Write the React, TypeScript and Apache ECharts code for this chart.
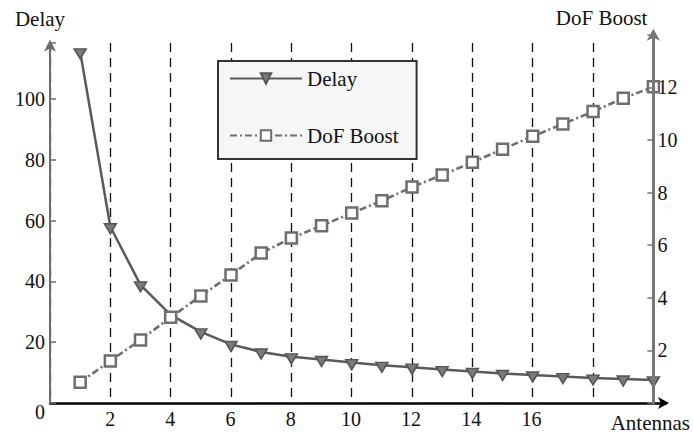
import React, { useEffect, useRef } from 'react';
import * as echarts from 'echarts';

const antennas = [1, 2, 3, 4, 5, 6, 7, 8, 9, 10, 11, 12, 13, 14, 15, 16, 17, 18, 19, 20];
const delay = [115.6, 58, 38.9, 29, 23.4, 19.3, 16.8, 15.2, 14.3, 13.3, 12.4, 11.8, 11.0, 10.4, 9.7, 9.2, 8.7, 8.2, 7.9, 7.6];
const dofBoost = [0.79, 1.6, 2.4, 3.26, 4.07, 4.87, 5.7, 6.27, 6.74, 7.22, 7.69, 8.21, 8.67, 9.15, 9.65, 10.14, 10.61, 11.08, 11.59, 12.02];
const xTickLabels = [2, 4, 6, 8, 10, 12, 14, 16];
const delayTickLabels = [20, 40, 60, 80, 100];
const dofTickLabels = [2, 4, 6, 8, 10, 12];
const originLabel = '0';

const FONT = 'Liberation Serif';

export default function App() {
  const ref = useRef<HTMLDivElement>(null);
  useEffect(() => {
    document.body.style.margin = '0';
    const chart = echarts.init(ref.current!, null, { renderer: 'svg' });
    const labelStyle = { fontFamily: FONT, fontSize: 20, color: '#111' };
    const nameStyle = { fontFamily: FONT, fontSize: 21, color: '#111' };
    chart.setOption({
      animation: false,
      textStyle: { fontFamily: FONT },
      legend: {
        data: ['Delay', 'DoF Boost'],
        orient: 'vertical',
        left: 218,
        top: 61,
        padding: [7, 18, 13, 11],
        itemWidth: 72,
        itemHeight: 13,
        itemGap: 36,
        backgroundColor: '#f6f6f6',
        borderColor: '#333',
        borderWidth: 2,
        textStyle: { fontFamily: FONT, fontSize: 21, color: '#111' },
        selectedMode: false,
      },
      graphic: [
        { type: 'text', left: 35, top: 402, style: { text: originLabel, fontFamily: FONT, fontSize: 20, fill: '#111' } },
      ],
      grid: [
        { left: 50, right: 39.6, top: 43, bottom: 33 },
        { left: 50, right: 39.6, top: 34.8, bottom: 33 },
        { left: 50, right: 25, top: 43, bottom: 33 },
      ],
      xAxis: [
        {
          gridIndex: 0, type: 'value', min: 0, max: 20, interval: 2,
          axisLine: { show: false }, axisTick: { show: false }, axisLabel: { show: false },
          splitLine: { show: true, lineStyle: { type: [9, 6], color: '#111', width: 1.3 } },
        },
        { gridIndex: 1, type: 'value', min: 0, max: 20, show: false },
        {
          gridIndex: 2, type: 'value', min: 0, max: 20.47, interval: 2,
          axisLine: {
            show: true, onZero: false,
            lineStyle: { color: '#000', width: 2.5 },
            symbol: ['none', 'arrow'], symbolSize: [9, 11], symbolOffset: [0, 3],
          },
          axisTick: { show: false },
          splitLine: { show: false },
          axisLabel: {
            ...labelStyle, margin: 6,
            formatter: (v: number) => (xTickLabels.includes(v) ? String(v) : ''),
          },
          name: 'Antennas', nameLocation: 'end', nameGap: 24,
          nameTextStyle: { ...nameStyle, align: 'right', verticalAlign: 'top', padding: [9.5, 0, 0, 0] },
        },
      ],
      yAxis: [
        {
          gridIndex: 0, type: 'value', min: 0, max: 118.5, interval: 20, position: 'left', z: 3,
          axisLine: {
            show: true, onZero: false,
            lineStyle: { color: '#6b6b6b', width: 2 },
            symbol: ['none', 'arrow'], symbolSize: [9, 12], symbolOffset: [0, 3.5],
          },
          axisTick: { show: true, inside: true, length: 6, lineStyle: { color: '#6b6b6b', width: 1.5 } },
          splitLine: { show: false },
          axisLabel: {
            ...labelStyle, margin: 5,
            formatter: (v: number) => (delayTickLabels.includes(v) ? String(v) : ''),
          },
          name: 'Delay', nameLocation: 'end', nameGap: 14,
          nameTextStyle: { ...nameStyle, padding: [0, 20, 0, 0] },
        },
        {
          gridIndex: 1, type: 'value', min: 0, max: 14, interval: 2, position: 'right', z: 3,
          axisLine: {
            show: true, onZero: false,
            lineStyle: { color: '#777', width: 3 },
            symbol: ['none', 'arrow'], symbolSize: [10, 12], symbolOffset: [0, 6],
          },
          axisTick: { show: true, inside: true, length: 6, lineStyle: { color: '#777', width: 1.5 } },
          splitLine: { show: false },
          axisLabel: {
            ...labelStyle, margin: 4,
            formatter: (v: number) => (dofTickLabels.includes(v) ? String(v) : ''),
          },
          name: 'DoF Boost', nameLocation: 'end', nameGap: 6,
          nameTextStyle: { ...nameStyle, align: 'right', padding: [0, 6, 0, 0] },
        },
        { gridIndex: 2, type: 'value', min: 0, max: 1, show: false },
      ],
      series: [
        {
          name: 'Delay', type: 'line', xAxisIndex: 0, yAxisIndex: 0,
          data: antennas.map((a, i) => [a, delay[i]]),
          symbol: 'path://M0,0 L12,0 L6,10 Z', symbolSize: [12, 10], symbolOffset: [0, 2],
          color: '#666',
          lineStyle: { color: '#5a5a5a', width: 2.5 },
          itemStyle: { color: '#7a7a7a', borderColor: '#555', borderWidth: 1.5 },
          clip: false, silent: true, z: 2,
        },
        {
          name: 'DoF Boost', type: 'line', xAxisIndex: 1, yAxisIndex: 1,
          data: antennas.map((a, i) => [a, dofBoost[i]]),
          symbol: 'rect', symbolSize: 11,
          color: '#777',
          lineStyle: { color: '#6e6e6e', width: 2.6, type: [7, 3, 2, 3] },
          itemStyle: { color: '#fff', borderColor: '#6e6e6e', borderWidth: 2.5 },
          clip: false, silent: true, z: 2,
        },
      ],
    });
    return () => chart.dispose();
  }, []);
  return <div ref={ref} style={{ width: 693, height: 436 }} />;
}
